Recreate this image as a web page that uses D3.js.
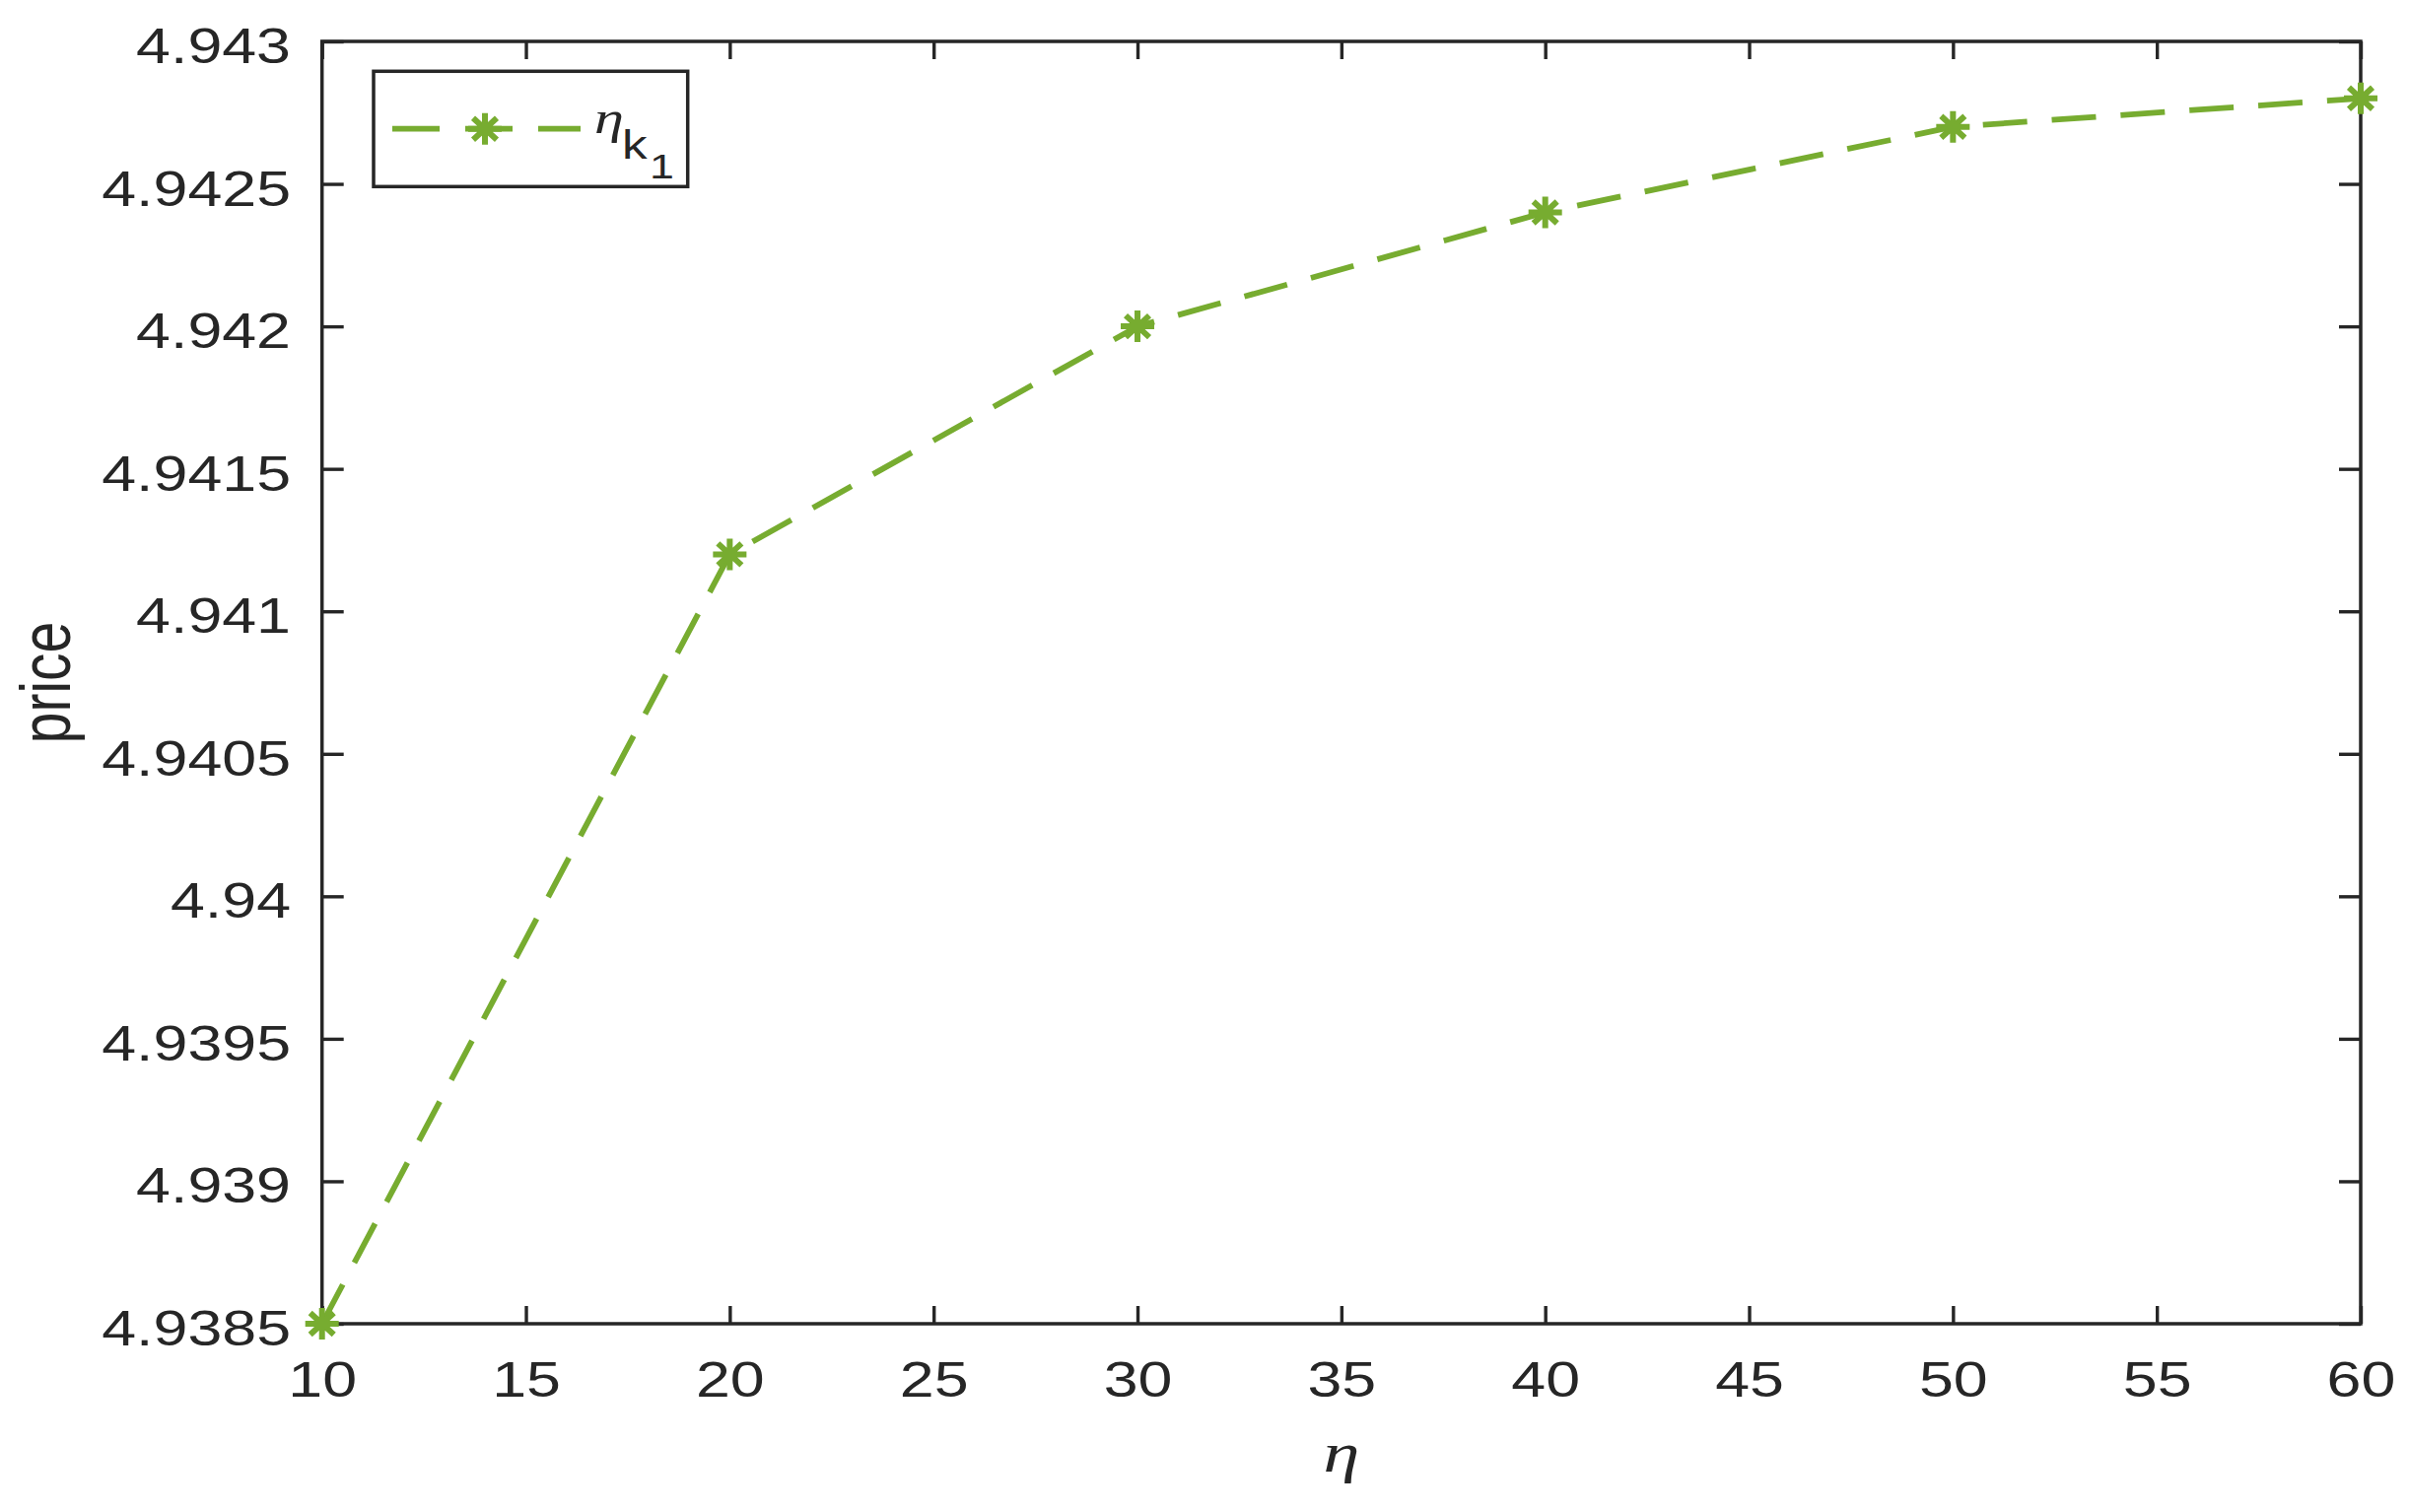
<!DOCTYPE html>
<html>
<head>
<meta charset="utf-8">
<script src="https://cdn.jsdelivr.net/npm/d3@7"></script>
<style>
  html, body { margin: 0; padding: 0; background: #fff; }
  svg { display: block; }
</style>
</head>
<body>
<svg id="chart" width="2444" height="1534"></svg>
<script>
// ---- data ----
const etaValues = [10, 20, 30, 40, 50, 60];
const priceValues = [4.9385, 4.9412, 4.9420, 4.9424, 4.9427, 4.9428];
const xTicks = [10, 15, 20, 25, 30, 35, 40, 45, 50, 55, 60];
const yTicks = [4.9385, 4.939, 4.9395, 4.94, 4.9405, 4.941, 4.9415, 4.942, 4.9425, 4.943];
const yTickLabels = ["4.9385", "4.939", "4.9395", "4.94", "4.9405", "4.941", "4.9415", "4.942", "4.9425", "4.943"];
const xDomain = [10, 60];
const yDomain = [4.9385, 4.943];
const xLabel = "η";
const yLabel = "price";
const seriesName = { main: "η", sub: "k", subsub: "1" };

// ---- layout ----
const W = 2444, H = 1534;
const X0 = 326.7, X1 = 2395, Y0 = 42, Y1 = 1343;
const AX = "#262626";
const GREEN = "#77AC30";
const SX = 1.28; // horizontal text stretch of the reference
const SANS = "'Liberation Sans', Arial, Helvetica, sans-serif";
const SERIF = "'Liberation Serif', 'Times New Roman', serif";

const svg = d3.select("#chart");
svg.append("rect").attr("width", W).attr("height", H).attr("fill", "#fff");

const x = d3.scaleLinear().domain(xDomain).range([X0, X1]);
const y = d3.scaleLinear().domain(yDomain).range([Y1, Y0]);

function styleAxis(g) {
  g.select(".domain").remove();
  g.selectAll(".tick line").attr("stroke", AX).attr("stroke-width", 3.4);
}

// bottom axis
const gB = svg.append("g").attr("transform", `translate(0,${Y1})`)
  .call(d3.axisBottom(x).tickValues(xTicks).tickSizeInner(-18).tickSizeOuter(0).tickFormat(d3.format("d")));
styleAxis(gB);
gB.selectAll(".tick text")
  .attr("y", 74).attr("dy", 0)
  .attr("transform", `scale(${SX},1)`)
  .attr("fill", AX).attr("font-family", SANS).attr("font-size", 49);

// top axis (ticks only)
const gT = svg.append("g").attr("transform", `translate(0,${Y0})`)
  .call(d3.axisTop(x).tickValues(xTicks).tickSizeInner(-18).tickSizeOuter(0).tickFormat(""));
styleAxis(gT);

// left axis
const gL = svg.append("g").attr("transform", `translate(${X0},0)`)
  .call(d3.axisLeft(y).tickValues(yTicks).tickSizeInner(-22).tickSizeOuter(0)
    .tickFormat((d, i) => yTickLabels[i]));
styleAxis(gL);
gL.selectAll(".tick text")
  .attr("x", -(X0 - 295) / SX).attr("dy", 0).attr("y", 21.5)
  .attr("text-anchor", "end")
  .attr("transform", `scale(${SX},1)`)
  .attr("fill", AX).attr("font-family", SANS).attr("font-size", 49);

// right axis (ticks only)
const gR = svg.append("g").attr("transform", `translate(${X1},0)`)
  .call(d3.axisRight(y).tickValues(yTicks).tickSizeInner(-22).tickSizeOuter(0).tickFormat(""));
styleAxis(gR);

// box
svg.append("rect")
  .attr("x", X0).attr("y", Y0).attr("width", X1 - X0).attr("height", Y1 - Y0)
  .attr("fill", "none").attr("stroke", AX).attr("stroke-width", 3.5);

// axis labels
svg.append("text")
  .attr("transform", `translate(${(X0 + X1) / 2},1492.7) scale(${SX},1)`)
  .attr("text-anchor", "middle")
  .attr("font-family", SERIF).attr("font-style", "italic").attr("font-size", 58)
  .attr("fill", AX).text(xLabel);

svg.append("text")
  .attr("transform", `translate(71,${(Y0 + Y1) / 2}) scale(${SX},1) rotate(-90)`)
  .attr("text-anchor", "middle")
  .attr("font-family", SANS).attr("font-size", 57)
  .attr("fill", AX).text(yLabel);

// asterisk marker
function asterisk(sel) {
  const a = 16, h = 17, d = 12, dv = 11;
  sel.append("path")
    .attr("d", `M0,${-a}V${a}M${-h},0H${h}M${-d},${-dv}L${d},${dv}M${-d},${dv}L${d},${-dv}`)
    .attr("stroke", GREEN).attr("stroke-width", 6).attr("fill", "none");
}

// line
const line = d3.line().x((d, i) => x(etaValues[i])).y(d => y(d));
svg.append("path")
  .datum(priceValues)
  .attr("d", line)
  .attr("fill", "none").attr("stroke", GREEN).attr("stroke-width", 5.8)
  .attr("stroke-dasharray", "45,25");

svg.selectAll("g.marker").data(priceValues).enter().append("g")
  .attr("class", "marker")
  .attr("transform", (d, i) => `translate(${x(etaValues[i])},${y(d)})`)
  .each(function () { asterisk(d3.select(this)); });

// legend
const lg = svg.append("g");
lg.append("rect").attr("x", 379).attr("y", 72.3).attr("width", 318.7).attr("height", 117)
  .attr("fill", "#fff").attr("stroke", AX).attr("stroke-width", 3.5);
lg.append("line").attr("x1", 398).attr("x2", 589).attr("y1", 130.7).attr("y2", 130.7)
  .attr("stroke", GREEN).attr("stroke-width", 5.8).attr("stroke-dasharray", "48,26");
lg.append("g").attr("transform", "translate(492,130.7)").call(asterisk);
const lt = lg.append("g").attr("transform", `translate(603,0) scale(${SX},1)`);
lt.append("text").attr("x", 0).attr("y", 135)
  .attr("font-family", SERIF).attr("font-style", "italic").attr("font-size", 47)
  .attr("fill", AX).text(seriesName.main);
lt.append("text").attr("x", (631 - 603) / SX).attr("y", 161)
  .attr("font-family", SANS).attr("font-size", 40)
  .attr("fill", AX).text(seriesName.sub);
lt.append("text").attr("x", (659 - 603) / SX).attr("y", 181)
  .attr("font-family", SANS).attr("font-size", 35)
  .attr("fill", AX).text(seriesName.subsub);
</script>
</body>
</html>
